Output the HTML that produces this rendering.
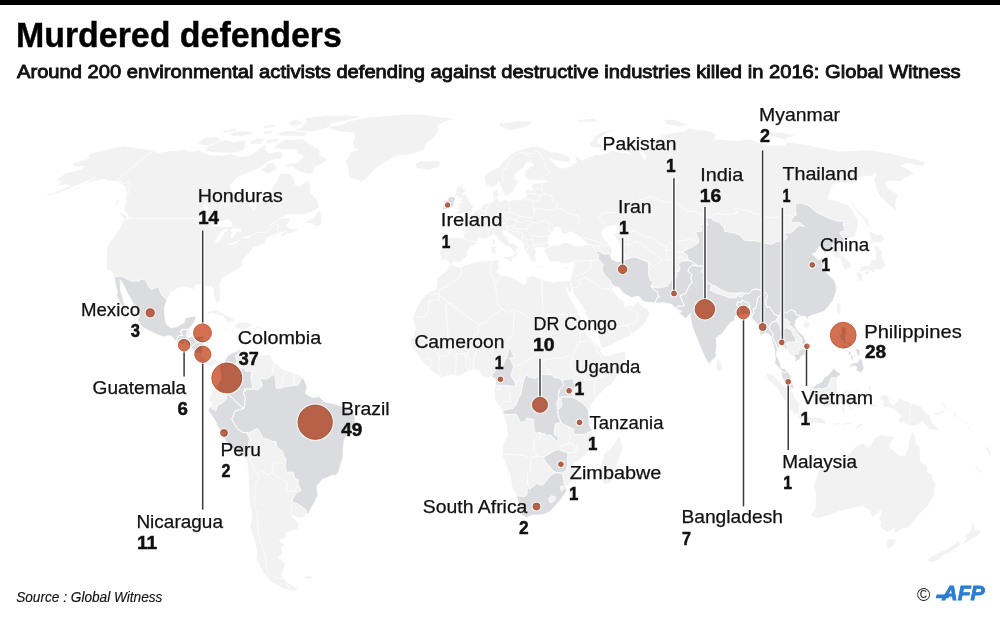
<!DOCTYPE html><html><head><meta charset="utf-8"><title>Murdered defenders</title><style>html,body{margin:0;padding:0;background:#fff}svg{display:block}text{font-family:"Liberation Sans",Arial,sans-serif}</style></head><body>
<svg width="1000" height="617" viewBox="0 0 1000 617">
<rect width="1000" height="617" fill="#fff"/>
<g><path d="M72.2,163.2 79.7,161.0 89.2,158.5 87.7,154.7 91.6,153.0 108.9,148.8 124.1,145.8 132.6,147.3 139.4,148.8 149.9,149.4 152.6,150.7 159.2,152.7 166.9,151.2 176.0,150.3 184.3,149.1 189.4,151.5 198.8,150.3 204.8,153.0 209.4,155.1 222.7,155.7 229.8,153.3 238.4,156.3 245.4,156.3 252.0,154.2 265.2,144.1 265.4,149.7 269.0,153.3 280.0,151.2 283.2,154.2 282.0,158.8 270.1,160.4 259.2,168.2 250.6,171.4 236.9,177.9 230.1,185.1 230.9,191.0 240.3,194.4 246.5,197.1 253.2,197.8 249.9,204.6 253.8,209.7 259.9,201.2 270.6,192.7 272.9,186.1 277.3,181.1 279.7,173.6 289.6,173.6 294.4,177.9 294.3,184.4 299.8,186.1 309.4,180.1 310.5,192.7 316.6,199.5 319.5,207.0 314.8,210.1 304.9,214.2 294.0,214.2 286.8,214.9 277.7,220.1 270.0,225.3 280.0,218.0 289.8,217.7 289.5,221.8 286.8,225.3 288.5,228.1 293.7,229.5 299.2,228.1 295.8,231.6 287.6,233.8 280.6,237.6 280.7,234.1 286.0,231.3 278.1,233.4 268.2,236.9 265.1,240.8 265.7,243.7 262.5,244.7 253.0,247.6 251.9,250.0 247.9,254.0 246.6,256.1 242.4,260.7 242.1,266.8 238.1,269.0 233.1,271.8 228.8,274.3 222.2,278.6 219.5,284.3 220.2,291.5 220.3,298.3 218.5,303.0 216.4,303.0 215.1,298.3 213.4,293.3 213.5,288.6 210.3,285.8 206.7,286.9 200.9,284.7 196.3,284.7 193.9,289.4 190.8,288.3 185.0,287.2 178.1,287.9 170.4,292.9 166.9,300.1 164.5,307.3 164.4,314.4 166.5,324.4 171.0,328.0 177.4,326.6 184.3,322.3 185.2,318.0 192.9,316.2 196.6,316.6 193.4,323.4 190.4,327.3 189.4,337.0 196.4,336.2 202.6,336.2 204.7,339.5 202.9,348.4 201.8,353.8 203.8,357.4 208.5,361.7 214.4,358.8 221.1,362.4 219.2,367.4 216.0,362.7 212.0,366.7 208.0,365.6 206.5,363.8 201.5,363.1 194.9,357.4 195.6,353.4 190.5,347.0 186.0,344.8 178.6,343.4 176.3,341.3 171.4,335.9 168.3,335.9 163.4,337.0 157.5,334.8 150.2,331.2 143.0,327.7 137.4,320.1 139.4,316.2 137.1,310.1 133.5,303.7 130.5,298.3 127.3,293.3 124.5,286.5 120.2,279.7 120.5,289.4 122.4,296.5 125.1,305.5 127.7,310.8 125.7,311.2 120.6,303.7 116.5,295.8 117.6,291.9 115.4,284.7 114.1,276.8 112.0,272.2 106.7,269.3 106.7,257.9 106.4,250.8 109.2,242.9 119.8,228.1 123.1,220.4 129.0,218.4 126.3,213.2 123.6,209.7 125.2,204.6 125.7,199.5 126.5,194.4 125.8,191.0 124.4,186.1 121.0,184.4 118.7,181.8 115.7,181.1 108.1,181.1 104.8,178.5 99.1,180.1 93.8,181.4 85.3,183.7 91.1,179.5 97.6,177.2 88.2,180.5 78.9,184.4 68.4,189.0 56.9,193.4 45.2,196.8 34.2,199.5 40.9,197.1 53.8,192.7 64.0,188.4 70.5,185.1 65.8,184.7 57.4,185.7 61.4,181.1 56.4,179.5 66.2,173.0 79.8,169.8 85.1,166.3 73.5,166.6ZM361.6,181.8 366.9,177.9 373.8,169.8 383.5,163.5 397.1,155.7 413.9,154.2 424.6,149.1 426.2,143.8 433.5,138.0 438.0,131.1 437.9,125.8 443.3,122.0 454.9,118.5 440.6,116.9 423.2,114.4 404.9,114.0 385.0,115.7 364.4,117.4 357.8,119.2 347.6,121.5 342.5,124.5 329.3,126.5 330.9,128.9 338.7,131.6 354.2,133.0 354.7,136.6 352.9,142.3 353.1,147.3 358.5,149.7 350.3,152.1 349.5,155.7 345.4,161.9 346.9,165.0 348.2,169.8 348.4,174.6 350.6,177.9 355.0,179.5ZM415.1,163.5 421.3,160.7 429.5,161.3 438.0,160.4 440.8,164.1 437.8,166.9 427.4,170.1 421.6,168.8 417.6,168.5 415.3,165.4ZM327.3,160.0 319.8,165.0 315.0,166.9 313.8,171.4 310.0,174.6 303.5,173.0 298.4,171.4 292.8,166.9 285.3,167.3 287.0,163.8 296.6,163.2 299.9,160.0 304.1,155.7 298.3,154.2 296.1,149.7 283.6,149.7 274.7,148.2 275.2,145.3 284.5,139.2 290.7,139.5 302.1,138.9 306.9,142.1 312.0,145.3 314.9,147.3 319.2,149.1 320.1,152.7 319.2,155.7 325.8,158.2ZM311.5,131.6 321.9,129.7 331.6,126.3 331.0,123.2 345.4,120.8 360.2,117.8 360.8,116.3 348.2,115.1 329.3,115.3 306.8,117.8 297.7,120.8 305.2,123.2 302.4,127.1 295.0,129.7 305.0,131.9ZM304.6,136.3 281.6,135.8 276.1,133.3 285.1,131.1 297.6,131.1 307.5,132.4ZM293.2,126.3 287.4,123.2 294.6,119.6 305.2,118.9 306.8,122.0ZM242.3,151.2 232.5,153.0 221.3,152.7 210.8,151.8 204.6,151.2 207.6,146.7 216.3,142.3 226.9,140.0 233.2,142.1 245.0,139.5 245.5,143.8 245.1,147.3ZM206.4,145.8 197.5,144.1 204.7,138.0 216.4,136.6 222.2,140.3 215.6,143.8ZM260.0,143.8 250.5,144.4 250.3,141.5 257.2,138.3 265.2,138.9ZM274.7,142.3 264.4,143.8 267.9,139.5 279.2,138.0 278.3,140.9ZM254.3,133.8 242.8,136.1 232.2,136.1 228.9,133.8 239.3,131.1 251.4,131.4ZM271.2,133.8 262.7,133.8 263.9,131.4 273.7,130.3ZM276.2,169.8 267.1,174.0 261.6,169.8 267.7,163.5 273.2,162.5 276.1,166.6ZM273.9,127.1 263.9,128.4 263.7,125.8 275.6,124.5ZM237.2,131.1 224.3,132.7 221.6,131.1 235.2,128.4ZM303.5,223.2 315.0,216.6 319.1,209.4 321.7,217.3 321.8,223.6 318.2,226.7 313.5,225.0 310.3,223.6ZM127.0,220.4 123.5,218.7 119.2,212.5 122.4,212.8 126.3,215.6ZM115.5,208.0 115.8,204.6 116.8,200.5 119.4,201.2ZM202.8,314.8 209.2,311.2 211.1,310.5 217.0,310.5 225.6,315.1 231.2,317.6 235.4,320.9 230.9,321.9 224.1,321.9 226.0,319.4 222.4,315.8 214.9,314.4 211.9,313.3 205.5,314.8ZM233.7,326.9 239.3,321.9 247.9,322.6 252.4,326.6 247.6,328.0 242.7,330.2 238.5,328.4ZM221.5,327.3 227.6,328.7 225.6,329.4 222.3,328.4ZM256.1,326.9 261.1,327.3 260.3,328.7 255.9,328.7ZM81.0,187.1 73.9,188.1 73.9,191.0ZM221.1,362.4 222.8,364.5 227.5,355.9 231.7,353.1 238.2,350.6 239.9,348.8 241.3,350.9 239.8,354.5 244.4,352.0 245.2,349.5 249.5,355.6 254.6,355.2 263.7,355.2 270.6,354.9 272.8,360.9 275.9,362.7 281.3,368.8 291.3,372.0 299.7,375.6 303.8,378.8 306.8,386.0 306.8,389.6 305.1,393.1 311.5,397.4 319.4,396.7 324.8,402.1 332.8,403.5 343.2,406.4 348.0,410.3 353.4,411.8 355.1,418.6 354.7,425.4 348.6,432.2 344.3,439.7 343.2,448.6 343.1,456.9 340.4,465.8 338.7,471.9 335.9,475.5 332.1,475.1 326.8,478.0 322.9,479.0 316.9,486.2 317.8,495.2 314.7,502.3 312.3,505.9 309.2,513.1 306.6,513.8 303.1,518.1 299.2,518.1 294.0,516.3 291.6,514.8 292.4,517.0 297.1,522.0 298.9,523.4 298.0,529.1 285.8,532.7 285.9,538.0 279.2,539.8 285.2,545.5 281.6,546.9 282.8,553.9 278.4,557.5 285.6,563.8 282.7,571.4 282.3,576.6 285.4,579.7 286.7,581.7 292.2,585.8 297.9,588.2 294.3,591.6 283.0,588.5 271.4,581.7 262.1,571.4 258.7,562.7 256.4,559.2 257.2,550.4 255.8,546.9 255.1,542.6 252.4,534.5 250.0,526.3 251.9,518.4 251.4,511.3 249.2,500.5 248.8,489.8 248.4,477.6 247.4,464.7 246.4,459.0 243.0,456.1 233.8,449.7 226.1,441.5 223.2,436.5 218.9,428.9 216.0,422.5 212.5,416.4 208.1,410.0 211.2,405.3 212.0,402.1 209.2,401.0 211.6,393.1 215.1,388.9 215.4,386.7 220.0,380.6 221.3,379.2 220.3,371.7 219.2,367.4ZM303.0,575.9 311.9,575.9 313.3,578.0 309.3,579.3 304.8,578.3ZM449.3,265.0 451.1,264.7 459.3,267.5 465.1,265.4 475.9,261.4 487.7,260.7 496.0,259.7 499.5,260.7 498.1,264.3 499.5,267.2 496.6,272.2 501.1,275.0 506.2,275.4 512.2,277.5 523.8,284.7 526.8,282.2 527.0,277.9 532.6,275.4 535.7,276.8 541.8,279.7 554.0,282.6 556.7,281.5 563.9,281.1 569.7,281.1 572.2,287.6 570.7,293.7 565.1,286.1 568.4,294.7 575.1,307.3 580.8,318.0 581.0,323.0 585.3,328.7 588.7,337.3 595.2,343.8 601.0,348.1 600.8,351.6 603.4,355.6 606.5,355.9 615.9,353.1 626.2,350.9 625.4,355.9 626.7,355.9 622.5,364.5 618.0,375.3 610.2,386.0 608.0,386.0 600.8,393.1 599.2,394.6 594.4,400.3 591.2,405.0 590.2,407.5 588.8,417.5 589.3,425.4 592.4,430.7 592.3,445.0 587.0,454.0 578.9,460.4 573.5,464.0 575.4,471.9 575.1,479.0 565.9,485.8 566.2,491.6 560.3,500.2 550.3,511.3 543.2,514.8 532.5,515.2 526.4,517.7 521.7,514.8 520.4,507.7 516.3,495.5 511.8,486.2 510.4,475.1 505.8,464.7 502.1,455.1 503.3,443.3 507.4,436.1 506.5,424.6 503.4,414.6 502.1,409.3 494.8,400.3 494.2,391.4 494.8,386.0 495.5,378.8 491.7,377.0 483.8,377.8 479.1,370.6 475.6,370.2 468.7,371.3 464.2,373.1 458.2,376.3 452.2,374.5 441.2,377.4 433.3,371.7 423.3,362.7 417.8,354.5 412.3,348.4 410.3,340.5 413.6,335.9 415.5,328.4 414.1,323.4 412.7,318.7 416.3,309.0 421.3,300.1 426.6,293.3 435.6,289.4 437.1,284.3 436.8,278.6 443.8,272.9 446.3,271.5 449.0,265.7ZM619.9,436.1 623.1,448.6 620.7,454.0 615.8,468.3 610.9,482.6 604.7,484.4 600.5,476.9 599.7,468.3 603.8,454.0 610.6,448.6 615.6,441.5ZM450.3,264.3 448.4,261.4 445.2,260.0 440.7,260.7 441.4,255.4 439.4,254.3 441.7,248.3 442.2,242.9 441.3,239.4 445.3,236.9 453.8,237.6 462.9,238.0 465.0,230.6 464.4,227.1 462.6,224.6 456.3,222.5 455.7,220.4 460.8,219.1 464.6,219.7 464.0,215.9 469.5,216.6 473.8,213.5 474.7,211.4 478.3,210.1 481.9,207.3 482.8,204.6 488.8,203.2 493.1,201.5 493.2,196.1 492.2,191.7 498.4,188.7 497.6,192.7 498.9,194.4 496.8,197.8 499.5,200.1 499.2,201.5 504.8,199.5 508.0,201.5 512.8,200.1 519.6,199.8 523.0,198.4 526.1,196.8 525.5,191.7 527.9,189.0 533.2,191.0 531.5,186.1 534.2,183.1 542.6,182.8 548.0,181.4 544.8,180.5 534.7,180.1 527.6,179.8 525.3,176.2 525.2,171.4 531.9,165.7 534.3,165.0 530.9,162.5 525.9,163.2 523.6,167.6 522.0,168.8 516.7,173.0 515.0,173.3 515.0,177.9 514.7,178.8 518.9,181.1 517.5,183.4 513.7,189.4 513.5,192.1 508.6,194.4 504.7,195.7 503.4,192.7 501.8,188.7 500.0,184.4 498.7,181.4 496.9,184.4 491.8,187.4 485.9,184.7 484.4,179.5 484.6,174.6 489.6,172.0 495.8,168.8 499.4,166.6 503.0,161.9 507.4,157.9 511.0,154.2 517.6,150.6 524.3,148.8 532.6,146.4 537.6,146.7 544.7,148.8 549.8,151.8 556.8,152.4 569.4,156.6 570.6,161.6 563.6,161.9 556.1,160.4 549.7,158.5 556.9,166.6 562.6,168.5 570.6,166.3 576.7,161.9 574.5,154.2 582.1,160.4 596.5,154.2 599.0,154.8 607.7,153.3 611.0,150.3 613.7,151.2 625.8,152.7 631.5,154.8 626.6,149.7 626.9,143.8 627.5,140.0 633.8,142.3 638.3,148.2 644.8,160.4 646.7,157.3 643.1,152.7 643.5,143.8 649.2,142.3 650.5,139.5 661.3,138.0 661.1,135.2 675.5,132.4 684.5,131.1 689.8,127.9 697.5,129.7 706.7,130.5 715.9,133.8 715.9,136.6 714.6,139.5 721.1,139.5 735.7,140.9 745.0,139.5 751.5,139.5 761.0,143.8 769.3,145.3 785.0,145.3 787.2,141.8 809.5,145.3 816.7,147.3 839.9,151.2 850.9,150.9 861.1,150.0 872.9,150.3 888.3,153.0 900.9,156.0 913.2,158.8 925.5,161.9 923.4,165.0 924.3,166.9 914.9,165.0 906.4,163.2 901.8,166.0 914.5,173.6 904.6,177.9 900.9,181.1 888.3,181.1 885.0,182.8 887.8,187.7 898.1,194.4 896.1,201.2 895.6,204.9 896.4,211.4 888.5,204.6 880.1,196.1 875.9,189.4 875.8,186.1 873.9,179.5 876.6,175.3 875.2,173.0 870.3,176.2 860.3,176.2 854.6,182.8 839.7,183.1 833.3,184.4 831.2,187.7 829.3,194.4 827.6,198.8 837.5,201.2 849.7,206.3 854.8,214.9 858.3,221.8 857.5,227.1 854.8,236.6 845.9,239.1 844.0,241.9 844.0,247.2 840.0,252.9 845.2,257.2 851.0,264.3 851.1,267.5 844.6,270.0 843.1,266.1 840.6,259.3 835.8,257.9 833.3,255.4 832.4,251.5 829.8,250.4 824.6,253.6 823.6,254.0 822.9,248.6 819.8,246.5 817.1,250.0 815.5,252.9 812.0,253.6 815.8,257.2 818.4,260.0 822.0,257.9 828.5,259.3 826.4,261.4 823.8,264.0 822.3,267.9 828.5,275.0 834.5,280.4 836.2,285.8 836.5,291.1 833.2,300.1 829.1,305.5 824.0,311.2 818.8,313.3 812.2,315.1 807.9,317.3 807.5,320.5 805.3,316.2 800.0,316.2 796.4,319.1 794.8,325.1 797.4,330.5 803.3,335.5 807.5,344.8 808.4,350.2 804.6,354.5 801.0,356.3 800.2,358.8 795.1,362.4 795.4,357.4 792.1,355.6 788.9,353.8 786.9,349.5 780.2,344.8 778.7,348.4 777.0,355.6 780.0,362.7 781.2,368.1 785.0,368.8 787.3,371.0 791.4,377.0 791.4,379.5 794.2,388.1 792.0,388.5 784.9,383.1 781.9,377.0 781.5,373.5 779.3,368.1 774.7,363.4 774.9,357.4 774.7,350.2 770.6,335.9 768.1,333.7 765.5,333.0 760.2,335.9 758.9,326.9 755.8,322.3 751.6,318.0 749.5,313.3 745.6,314.4 741.1,315.5 735.0,316.2 735.1,319.8 729.6,323.4 722.2,333.7 716.3,337.7 716.7,346.3 715.8,352.0 716.4,356.3 711.2,361.3 709.2,364.2 705.1,357.7 700.4,347.3 696.6,337.7 691.8,325.1 690.5,318.0 690.1,313.7 685.6,318.7 679.0,313.3 681.9,311.5 677.0,309.0 671.9,304.4 662.5,302.6 657.3,303.3 647.1,302.2 643.3,301.5 638.8,296.2 631.3,297.6 623.3,293.3 619.0,287.6 613.4,285.8 612.2,289.4 617.4,296.5 619.8,299.4 622.9,299.7 624.5,303.7 624.3,305.8 633.2,305.8 637.8,301.9 638.5,299.0 639.3,304.0 646.4,308.7 650.4,312.6 646.9,319.8 642.7,325.5 636.8,330.5 628.4,336.6 618.6,341.3 606.3,347.3 601.6,347.7 599.1,339.5 598.3,334.1 592.9,325.1 586.9,316.2 582.8,307.3 577.8,300.1 572.8,292.9 572.2,287.6 569.7,281.1 571.7,275.8 572.9,271.8 573.6,266.1 573.9,262.2 572.1,262.2 567.7,263.2 561.8,263.2 557.5,261.4 552.8,262.2 548.3,260.7 546.8,255.7 544.8,251.8 543.8,250.0 546.0,248.3 551.7,246.5 548.8,246.8 544.6,248.3 543.1,247.2 537.3,247.2 534.1,247.9 536.0,251.8 534.3,257.2 536.9,257.5 535.1,262.5 531.2,261.4 529.9,258.2 528.9,255.4 525.8,251.8 524.0,248.6 524.1,244.7 521.1,241.2 515.0,237.6 510.9,234.1 506.9,232.0 507.4,230.2 503.2,230.9 503.5,235.2 506.7,237.3 509.6,242.9 513.9,243.3 516.6,246.1 521.4,249.7 518.4,249.0 517.5,248.3 515.6,251.1 517.4,253.6 514.5,257.5 513.1,256.5 514.8,253.6 513.2,250.0 508.8,247.2 505.3,245.4 501.0,242.2 498.1,239.4 497.2,236.2 493.5,234.5 489.5,236.6 485.2,239.1 483.5,238.3 478.1,238.3 477.1,241.5 477.0,243.3 474.1,245.1 470.3,246.5 467.4,250.8 466.5,251.8 467.9,254.7 465.1,258.6 464.2,258.6 460.5,261.8 454.0,261.8ZM453.7,214.5 459.8,213.9 466.7,212.5 473.4,210.7 472.1,209.0 474.5,205.9 470.8,204.6 470.4,202.5 467.4,199.1 466.4,195.7 465.2,194.4 462.8,194.4 464.3,192.7 466.4,189.4 462.1,188.7 463.4,185.7 458.5,185.7 456.3,189.4 456.2,192.7 454.4,195.1 455.8,196.8 457.7,195.4 457.7,198.4 461.7,198.1 460.9,200.5 462.1,202.9 457.7,203.5 458.7,204.9 458.7,207.0 455.3,208.7 460.9,209.7 458.1,210.7ZM452.8,207.3 454.0,203.5 453.7,201.2 455.8,199.1 454.2,196.8 451.3,196.4 448.0,197.8 447.7,200.1 443.7,200.5 443.4,202.9 445.9,203.9 443.1,207.3 441.6,208.3 443.8,209.7 446.6,209.0 450.9,207.7ZM858.3,271.5 860.9,266.1 869.5,265.4 870.8,259.7 875.5,259.0 875.8,250.8 873.1,245.8 877.0,245.1 882.2,251.8 881.5,256.1 884.3,262.5 885.6,265.4 883.4,267.9 881.1,269.3 875.7,269.3 874.3,273.2 870.2,270.4 865.5,270.0 861.8,271.8ZM872.4,244.7 870.3,238.7 869.0,230.9 876.5,234.8 881.6,234.8 884.7,238.3 880.9,242.9 873.7,241.9ZM855.9,273.6 858.8,271.8 863.0,275.0 862.7,280.8 859.9,281.5 857.1,276.1ZM864.4,274.7 864.6,271.5 869.1,270.7 870.0,272.2 867.4,274.0ZM867.9,228.8 866.4,223.6 860.8,216.6 855.6,209.7 851.2,202.9 850.5,200.1 855.1,206.3 864.3,217.3 868.3,218.4 869.0,225.3 872.7,228.8 867.9,226.7ZM837.7,302.6 841.0,303.7 840.9,310.8 839.4,314.8 836.6,310.8 836.2,305.5ZM803.1,324.4 805.8,321.6 810.3,322.6 809.1,327.3 805.8,328.0 803.4,326.9ZM717.4,358.1 720.8,362.7 723.2,368.1 721.4,371.0 717.6,371.7 716.6,368.1 716.4,362.7ZM840.8,326.9 845.8,326.9 846.6,332.3 845.2,337.7 846.1,342.3 848.9,342.0 854.2,346.6 854.9,348.1 851.0,346.6 847.6,344.1 843.1,343.4 843.8,341.3 840.7,339.5 839.5,334.8 841.3,334.1ZM849.7,368.1 850.4,364.5 854.0,362.4 857.2,362.7 860.0,358.1 862.7,360.9 863.9,368.1 861.3,373.1 856.1,370.6 856.5,366.7 852.7,365.9ZM855.3,348.4 859.8,349.5 860.2,353.8 858.3,356.6 856.4,352.7ZM848.3,350.9 851.9,352.0 850.3,355.6 848.4,355.6ZM851.8,354.1 853.6,357.4 852.3,360.6 850.2,357.7ZM854.5,353.1 855.5,356.6 853.5,359.1ZM842.3,344.8 846.2,345.9 845.6,349.1 843.3,348.1ZM834.2,363.1 840.3,355.6 841.3,352.7 838.8,357.4ZM765.7,373.1 772.7,374.5 781.8,384.2 785.6,386.7 792.7,393.1 795.1,398.5 799.7,403.9 799.1,413.9 794.7,414.3 788.0,407.5 782.5,396.7 776.8,387.1 768.1,379.9ZM796.7,417.5 799.4,414.3 806.6,415.7 813.1,417.8 820.3,417.8 825.5,420.7 825.6,424.3 817.9,422.9 811.6,422.1 805.4,421.1 800.7,419.6ZM827.4,422.1 829.5,423.2 827.8,424.6ZM830.5,422.9 832.6,423.2 831.6,425.0ZM832.9,423.6 840.2,422.5 838.8,424.6 833.4,425.4ZM842.4,423.6 852.2,422.1 851.8,424.3 842.9,425.0ZM853.5,430.0 859.1,423.9 866.0,423.2 856.8,428.9ZM839.6,427.2 845.2,428.2 843.2,430.0ZM809.3,387.8 811.2,386.0 815.7,387.4 821.8,381.7 827.6,375.6 830.9,372.0 833.9,368.1 837.2,371.7 841.1,373.8 837.5,377.0 836.7,382.4 837.8,389.6 834.7,394.9 833.0,402.1 831.2,406.8 826.8,407.5 821.8,404.6 817.8,403.9 813.0,403.5 812.8,398.5 809.4,394.6 809.4,391.4ZM842.1,412.8 844.9,413.2 844.9,403.9 847.2,402.5 850.1,409.3 852.6,411.0 851.2,404.6 848.2,400.0 854.6,396.4 848.9,396.7 846.1,391.4 853.7,391.4 859.9,387.8 857.8,391.7 847.3,390.3 844.5,390.6 843.5,395.7 840.2,402.8 842.0,405.7ZM867.8,386.7 869.3,385.3 871.3,389.6 869.5,391.4 871.0,394.9 868.5,394.2 869.4,390.3ZM869.3,403.9 877.1,404.6 878.0,406.8 870.8,406.0ZM862.9,404.2 866.7,405.0 865.4,406.8 862.9,406.0ZM878.9,397.8 883.7,394.6 888.7,396.4 889.2,402.1 892.9,405.0 899.4,398.5 909.7,402.5 921.3,406.8 925.7,412.8 930.3,415.3 931.4,421.8 939.4,430.4 929.1,429.3 928.1,427.2 922.0,421.1 916.9,425.4 909.0,426.1 903.0,422.1 899.8,423.2 898.5,418.2 901.8,416.4 894.3,409.3 888.1,407.1 884.0,407.5 881.6,403.2 883.9,401.7ZM933.6,412.8 939.9,412.8 945.5,408.2 943.0,413.6 935.0,415.3ZM818.4,471.2 827.5,466.9 833.5,465.8 841.4,462.9 846.0,457.6 850.9,452.2 856.6,445.4 863.2,442.9 866.4,446.8 870.5,446.5 872.9,440.4 875.7,437.5 881.4,434.3 884.4,435.7 892.2,436.1 894.6,437.2 891.3,441.5 889.3,446.5 894.8,451.5 899.7,455.8 904.3,455.8 908.4,446.8 909.3,437.9 913.2,431.4 915.6,437.9 915.7,444.0 919.9,446.8 920.3,453.6 920.4,461.2 921.8,462.2 927.0,465.8 927.9,473.0 931.6,474.4 932.7,479.0 935.9,484.4 934.0,491.6 934.2,495.5 928.1,505.9 919.2,514.5 911.2,523.8 909.4,527.3 901.1,529.1 895.5,533.1 893.7,528.8 887.9,532.0 882.0,529.1 879.6,526.3 881.1,521.6 878.6,520.6 879.7,518.1 881.0,509.8 872.4,517.7 872.3,517.3 869.9,510.5 862.0,505.9 852.0,508.4 839.0,511.3 831.5,514.5 818.5,518.4 810.4,515.9 815.2,507.7 815.7,498.7 814.9,489.8 813.2,486.6 816.8,477.3ZM887.4,538.7 897.7,539.5 891.8,547.6 887.5,549.0 886.1,544.4ZM972.0,518.8 973.8,525.2 974.9,529.8 982.4,530.6 977.2,535.9 972.0,538.8 963.3,544.4 962.6,543.0 966.8,538.8 965.2,535.9 970.3,531.6 971.7,526.3ZM958.9,540.5 960.5,544.8 955.0,549.0 950.3,552.2 944.2,554.7 939.2,559.6 932.0,562.4 926.9,560.0 933.7,554.7 939.0,552.6 948.1,548.3 955.4,543.0ZM499.3,125.8 509.7,130.8 519.8,128.4 531.3,124.5 530.7,121.5 516.9,120.8 509.2,122.2 499.3,122.7ZM591.4,146.7 600.9,147.9 603.8,146.7 597.4,142.3 598.8,138.3 603.7,135.2 610.0,131.6 618.2,130.0 612.9,129.7 601.8,131.9 593.7,136.6 592.4,140.9 589.2,143.8ZM667.1,124.5 680.1,127.1 687.1,124.5 675.1,119.6 663.5,119.6ZM767.5,135.2 784.1,139.5 795.2,135.2 780.3,132.4 767.7,132.4ZM875.4,146.7 880.9,145.3 876.0,145.0ZM575.9,122.0 599.5,122.0 593.2,118.5 578.5,119.6ZM503.7,256.8 513.1,256.1 511.7,261.8 504.0,258.6ZM491.4,246.5 496.1,246.5 495.4,253.2 492.2,254.0ZM492.6,239.8 494.9,239.4 495.2,242.9 494.3,245.1 492.6,243.7ZM536.7,266.1 545.1,266.8 544.3,267.9 537.1,267.2ZM563.0,267.9 569.7,265.4 567.8,267.9 564.9,269.3ZM940.4,402.5 945.1,404.6 948.0,409.6 947.0,410.3 943.4,406.0 939.7,403.2ZM953.0,411.0 956.7,416.1 955.7,417.8 953.1,413.9ZM958.6,416.8 961.2,419.3 960.5,420.0 958.2,417.8ZM963.6,421.4 968.4,423.6 967.7,424.3 963.2,422.1ZM967.5,426.4 971.2,427.2 970.4,428.6 967.6,428.2ZM971.0,422.9 973.0,425.4 973.4,427.5 971.6,426.1ZM972.5,429.7 975.5,430.7 973.0,431.1ZM974.6,465.1 977.8,467.6 982.1,473.0 980.7,473.3 975.1,466.9ZM986.4,446.1 988.3,447.9 990.7,451.5 990.5,456.9 989.6,456.5 988.0,451.1 986.3,448.6ZM26.6,201.5 30.4,200.5 23.9,203.2ZM15.2,205.3 19.0,203.5 14.4,205.9ZM12.9,207.3 13.7,206.6 11.8,208.3ZM11.8,208.3 12.6,207.7 10.7,209.4Z" fill="#f2f2f2" stroke="#fff" stroke-width="0.6"/>
<path d="M114.1,276.8 121.6,276.1 130.9,281.1 139.3,281.1 139.9,279.3 145.1,279.3 148.9,287.2 151.6,289.4 158.2,286.5 161.7,294.7 166.9,300.1 164.5,307.3 164.4,314.4 166.5,324.4 171.0,328.0 177.4,326.6 184.3,322.3 185.2,318.0 192.9,316.2 196.6,316.6 193.4,323.4 190.4,327.3 187.6,329.4 181.7,329.4 181.4,331.4 180.1,331.4 182.7,335.5 178.6,335.5 176.3,341.3 171.4,335.9 168.3,335.9 163.4,337.0 157.5,334.8 150.2,331.2 143.0,327.7 137.4,320.1 139.4,316.2 137.1,310.1 133.5,303.7 130.5,298.3 127.3,293.3 124.5,286.5 120.2,279.7 120.5,289.4 122.4,296.5 125.1,305.5 127.7,310.8 125.7,311.2 120.6,303.7 116.5,295.8 117.6,291.9 115.4,284.7ZM176.3,341.3 178.6,335.5 182.7,335.5 180.1,331.4 181.4,331.4 181.7,329.4 187.4,329.4 186.4,336.2 189.4,337.0 186.0,339.1 185.2,341.6 182.6,344.1 178.6,343.4ZM189.4,337.0 196.4,336.2 202.6,336.2 204.7,339.5 200.3,340.2 198.2,342.0 195.5,343.4 192.8,345.5 191.1,346.7 189.7,345.2 187.7,343.4 185.2,341.6 186.0,339.1ZM204.7,339.5 202.9,348.4 201.8,354.1 198.7,353.4 195.6,353.4 193.0,350.2 191.1,346.7 192.8,345.5 195.5,343.4 198.2,342.0 200.3,340.2ZM219.2,367.4 221.1,362.4 222.8,364.5 227.5,355.9 231.7,353.1 238.2,350.6 239.9,348.8 241.0,350.7 237.7,353.4 235.6,355.9 236.8,363.1 236.4,364.9 238.1,368.1 243.8,368.1 245.9,371.3 251.9,371.0 250.7,377.0 252.2,384.2 252.7,388.9 244.2,389.2 245.7,391.0 243.5,391.4 243.5,393.9 245.4,397.4 244.1,408.2 241.5,406.8 236.4,402.1 232.2,397.8 227.1,393.5 225.8,392.8 220.1,391.7 215.7,388.1 220.0,380.6 221.3,379.2 220.3,371.7ZM211.2,405.3 208.1,410.0 212.5,416.4 216.0,422.5 218.9,428.9 223.2,436.5 226.1,441.5 233.8,449.7 243.0,456.1 246.1,458.8 248.6,455.8 249.0,451.5 248.1,448.3 249.4,437.9 246.2,432.5 243.0,432.5 237.7,428.9 235.3,425.4 231.9,419.3 234.7,411.4 244.1,408.2 241.5,406.8 236.4,402.1 232.2,397.8 227.1,393.5 226.2,398.9 222.8,402.5 217.2,405.7 215.8,411.0 214.1,409.6 211.9,408.5ZM306.6,513.8 309.2,513.1 312.3,505.9 314.7,502.3 317.8,495.2 316.9,486.2 322.9,479.0 326.8,478.0 332.1,475.1 335.9,475.5 338.7,471.9 340.4,465.8 343.1,456.9 343.2,448.6 344.3,439.7 348.6,432.2 354.7,425.4 355.1,418.6 353.4,411.8 348.0,410.3 343.2,406.4 332.8,403.5 324.8,402.1 319.4,396.7 311.5,397.4 305.1,393.1 306.8,389.6 306.8,386.0 303.8,378.8 301.9,378.1 297.6,385.3 293.8,385.6 288.1,386.3 286.2,386.3 281.5,388.1 276.4,388.5 275.9,384.2 275.4,377.0 273.2,374.5 267.4,378.8 264.6,379.2 260.2,378.1 262.5,386.0 257.8,389.9 252.7,388.9 244.2,389.2 245.7,391.0 243.5,391.4 243.5,393.9 245.4,397.4 244.1,408.2 234.7,411.4 231.9,419.3 235.3,425.4 237.7,428.9 243.0,432.5 246.2,432.5 249.0,432.9 257.2,428.2 259.6,431.8 262.9,437.9 267.3,439.0 272.2,441.5 276.0,441.5 276.8,447.2 282.8,451.5 283.5,455.8 285.9,458.3 285.9,461.2 285.1,465.4 286.4,472.2 293.2,472.2 294.8,478.7 298.3,479.4 298.0,484.8 301.2,490.1 295.9,493.4 291.5,501.2 296.8,503.7 299.8,505.2 305.8,509.8ZM452.8,207.3 454.0,203.5 453.7,201.2 455.8,199.1 454.2,196.8 451.3,196.4 448.0,197.8 447.7,200.1 443.7,200.5 443.4,202.9 445.9,203.9 443.1,207.3 441.6,208.3 443.8,209.7 446.6,209.0 450.9,207.7ZM491.7,377.0 495.5,378.8 495.8,385.3 500.5,385.3 506.9,385.3 515.4,386.7 515.7,383.8 510.9,375.3 513.8,366.3 509.7,358.1 514.1,357.4 512.2,353.1 510.9,349.5 509.6,346.6 507.8,353.8 506.8,357.4 504.0,362.7 501.2,368.8 498.0,368.5 495.2,371.0 492.6,374.2ZM503.4,414.6 502.7,411.0 505.9,410.0 509.1,408.9 513.2,408.5 516.0,405.0 518.2,398.5 520.8,394.9 521.7,389.6 523.6,380.6 526.1,374.9 529.6,377.4 535.6,378.5 537.5,376.3 543.8,374.5 551.4,374.9 554.5,377.8 557.7,377.8 562.1,380.6 563.7,385.3 561.9,387.4 559.3,389.9 558.4,394.6 558.4,398.2 556.5,403.2 557.1,405.0 557.4,409.3 558.3,416.4 561.3,422.5 555.7,423.6 555.0,425.4 554.3,434.3 558.0,436.8 558.5,441.1 556.0,441.1 554.2,438.6 550.5,434.7 546.7,435.7 544.5,433.2 541.7,434.0 540.5,432.5 535.1,433.2 533.9,427.2 533.6,419.3 526.4,418.2 526.1,421.8 520.4,422.1 516.3,414.3ZM558.4,398.2 558.4,394.6 559.3,389.9 561.9,387.4 563.7,385.3 562.1,380.6 565.3,379.5 569.1,379.2 572.2,378.1 573.8,380.6 575.4,387.1 572.3,392.4 572.0,396.7 562.8,396.7 561.2,397.1ZM561.2,397.1 572.0,396.7 583.6,403.9 588.6,410.0 588.8,417.5 589.3,425.4 592.4,430.7 588.6,432.5 582.9,434.7 577.5,434.3 573.7,434.3 573.5,428.9 568.9,426.8 562.6,423.9 561.3,422.5 558.3,416.4 557.7,409.3 560.9,407.5 562.1,405.3 561.2,401.7ZM543.8,456.9 547.9,454.7 551.1,452.6 555.2,450.4 560.2,449.0 560.2,450.4 568.0,452.9 567.1,460.1 567.9,464.0 566.2,470.1 562.3,473.3 556.5,472.6 552.2,470.1 550.1,466.5 546.2,462.9 544.1,459.4ZM516.3,495.5 520.4,507.7 521.7,514.8 526.4,517.7 532.5,515.2 543.2,514.8 550.3,511.3 560.3,500.2 566.2,491.6 566.6,489.4 564.1,483.7 563.9,480.5 562.3,473.3 556.5,472.6 552.1,474.0 548.9,477.6 545.8,481.2 542.6,485.1 536.5,483.7 533.3,486.2 529.3,489.4 527.3,481.9 527.0,494.8 523.9,496.6 519.1,495.9ZM596.0,252.2 598.2,251.1 603.5,254.0 607.9,254.0 610.8,255.7 611.6,259.0 617.9,261.8 626.2,259.7 626.3,259.0 631.9,257.2 636.4,257.5 642.7,260.0 648.2,262.2 648.9,269.7 648.3,273.2 650.3,280.4 652.8,281.1 651.1,286.5 654.4,290.4 657.6,291.9 658.1,295.8 659.7,296.5 656.8,298.3 655.2,303.0 647.1,302.2 643.3,301.5 638.8,296.2 631.3,297.6 623.3,293.3 619.0,287.6 613.7,286.1 611.7,284.0 610.4,280.8 604.7,275.0 602.8,271.5 602.1,267.9 603.5,265.0 600.0,260.7 597.7,259.0 598.7,255.4ZM655.2,303.0 657.3,303.3 662.5,302.6 671.9,304.4 676.0,308.7 677.6,306.2 681.4,306.5 684.3,305.5 682.3,301.2 680.1,295.8 685.6,293.3 689.0,286.1 692.0,282.2 690.6,276.8 692.8,275.4 688.1,271.5 688.8,267.9 692.6,265.0 698.2,266.1 691.4,261.1 687.2,260.7 681.5,261.4 678.2,264.3 680.2,267.9 678.8,271.5 675.9,271.8 676.8,275.0 675.4,279.0 671.0,280.0 667.8,286.1 660.7,287.6 656.2,287.9 651.1,286.5 654.4,290.4 657.6,291.9 658.1,295.8 659.7,296.5 656.8,298.3ZM676.0,308.7 681.9,311.5 679.0,313.3 685.6,318.7 690.1,313.7 690.5,318.0 691.8,325.1 696.6,337.7 700.4,347.3 705.1,357.7 709.2,364.2 711.2,361.3 716.4,356.3 715.8,352.0 716.7,346.3 716.3,337.7 722.2,333.7 729.6,323.4 735.1,319.8 735.0,316.2 741.1,315.5 740.1,312.6 738.7,306.5 736.6,305.1 737.7,301.9 741.8,302.6 741.4,300.1 748.6,303.0 748.8,304.0 750.2,307.3 747.0,308.3 748.6,311.2 750.6,310.1 752.1,314.4 752.4,314.4 754.0,312.6 753.2,309.0 755.8,308.0 756.7,303.3 757.6,297.9 760.3,295.8 762.9,293.7 760.3,290.1 756.4,289.0 752.3,289.7 748.5,293.7 745.7,293.3 740.9,297.2 737.6,295.4 737.4,292.9 736.2,297.9 729.4,297.9 722.8,295.1 716.4,293.3 710.1,290.1 711.9,285.1 705.0,280.8 703.3,276.8 705.5,275.8 701.5,271.5 704.8,266.1 698.2,266.1 692.6,265.0 688.8,267.9 688.1,271.5 692.8,275.4 690.6,276.8 692.0,282.2 689.0,286.1 685.6,293.3 680.1,295.8 682.3,301.2 684.3,305.5 681.4,306.5 677.6,306.2ZM741.1,315.5 745.6,314.4 749.5,313.3 751.6,318.0 752.1,314.4 750.6,310.1 748.6,311.2 747.0,308.3 750.2,307.3 748.8,304.0 748.6,303.0 741.4,300.1 741.8,302.6 737.7,301.9 736.6,305.1 738.7,306.5 740.1,312.6ZM751.6,318.0 755.8,322.3 758.9,326.9 760.2,335.9 765.5,333.0 768.1,333.7 770.6,335.9 774.7,350.2 774.9,357.4 775.3,357.7 776.7,355.6 777.4,348.4 775.4,343.0 772.6,337.7 773.2,334.1 770.2,330.2 768.9,326.9 771.4,322.6 776.1,320.5 778.6,316.2 774.7,314.4 772.4,311.2 769.6,306.9 766.8,307.3 765.7,301.9 767.7,294.7 765.0,292.2 763.1,291.9 762.9,293.7 760.3,295.8 757.6,297.9 756.7,303.3 755.8,308.0 753.2,309.0 754.0,312.6 752.4,314.4 752.1,314.4ZM780.7,370.2 783.9,372.7 786.1,372.4 787.0,371.0 785.0,368.8 781.2,368.1 780.0,362.7 777.0,355.6 778.7,348.4 780.2,344.8 786.9,349.5 788.4,351.6 786.2,344.5 787.8,342.0 794.1,342.0 795.7,342.3 795.5,337.7 792.5,334.1 791.7,330.2 786.7,327.7 783.5,329.1 780.8,330.5 779.5,325.1 777.7,323.4 776.1,320.5 771.4,322.6 768.9,326.9 770.2,330.2 773.2,334.1 772.6,337.7 775.4,343.0 777.4,348.4 776.7,355.6 775.3,357.7 774.7,363.4 779.3,368.1ZM800.0,316.2 796.4,319.1 794.8,325.1 797.4,330.5 803.3,335.5 807.5,344.8 808.4,350.2 804.6,354.5 801.0,356.3 800.2,358.8 795.1,362.4 795.4,357.4 793.7,355.9 795.5,354.1 798.9,353.8 797.8,351.3 802.6,349.1 801.8,341.3 801.8,338.4 798.2,334.5 793.3,328.0 788.8,324.4 790.1,323.0 787.8,319.8 785.5,319.1 782.1,316.6 783.0,311.9 786.8,312.6 790.7,309.8 795.3,311.5 795.7,314.4 799.6,315.8ZM780.7,370.2 781.5,373.5 781.9,377.0 784.9,383.1 792.0,388.5 794.2,388.1 791.4,379.5 791.4,377.0 787.3,371.0 786.1,372.4 783.9,372.7ZM811.2,386.0 813.4,387.1 816.2,384.6 821.8,381.7 824.8,376.7 827.6,375.6 830.9,372.0 833.9,368.1 837.2,371.7 841.1,373.8 837.5,377.0 836.6,378.1 831.2,377.8 829.8,382.4 826.7,387.8 822.0,388.9 818.8,388.1 815.7,389.6 811.2,387.8ZM829.8,250.4 824.6,253.6 823.6,254.0 822.9,248.6 819.8,246.5 817.1,250.0 815.5,252.9 812.0,253.6 815.8,257.2 818.4,260.0 822.0,257.9 828.5,259.3 826.4,261.4 823.8,264.0 822.3,267.9 828.5,275.0 834.5,280.4 836.2,285.8 836.5,291.1 833.2,300.1 829.1,305.5 824.0,311.2 818.8,313.3 812.2,315.1 807.9,317.3 807.5,320.5 805.3,316.2 800.0,316.2 799.6,315.8 795.7,314.4 795.3,311.5 790.7,309.8 786.8,312.6 783.0,311.9 780.0,313.0 778.6,316.2 774.7,314.4 772.4,311.2 769.6,306.9 766.8,307.3 765.7,301.9 767.7,294.7 765.0,292.2 763.1,291.9 760.3,290.1 756.4,289.0 752.3,289.7 748.5,293.7 745.7,293.3 740.6,292.2 737.8,293.3 735.0,293.3 728.6,292.9 721.9,290.1 715.1,285.8 711.9,285.1 705.0,280.8 703.3,276.8 705.5,275.8 701.5,271.5 704.8,266.1 698.2,266.1 691.4,261.1 688.2,260.0 687.4,255.4 682.7,251.8 688.5,248.6 693.7,246.5 698.8,242.2 698.8,239.4 695.6,232.4 701.9,230.9 700.8,224.6 707.9,225.0 705.9,218.4 710.0,217.7 713.0,220.1 719.5,222.5 724.8,228.8 724.4,231.3 733.4,232.7 739.4,234.8 744.8,240.5 755.2,240.8 771.1,244.4 775.8,241.9 784.8,240.1 787.6,236.9 783.4,233.4 790.6,233.1 796.7,227.8 799.0,225.3 804.3,226.4 799.0,222.2 796.0,222.9 790.3,222.2 793.6,216.6 796.4,214.9 795.4,209.4 795.3,203.5 800.4,202.9 808.0,205.3 818.0,213.2 830.2,218.7 839.1,221.5 843.5,220.4 843.3,223.6 845.3,232.0 841.5,231.3 839.7,232.7 843.9,239.1 844.0,241.9 839.4,242.9 837.8,244.7 833.5,243.7 831.1,248.3ZM840.8,326.9 845.8,326.9 846.6,332.3 845.2,337.7 846.1,342.3 848.9,342.0 854.2,346.6 854.9,348.1 851.0,346.6 847.6,344.1 843.1,343.4 843.8,341.3 840.7,339.5 839.5,334.8 841.3,334.1ZM849.7,368.1 850.4,364.5 854.0,362.4 857.2,362.7 860.0,358.1 862.7,360.9 863.9,368.1 861.3,373.1 856.1,370.6 856.5,366.7 852.7,365.9ZM855.3,348.4 859.8,349.5 860.2,353.8 858.3,356.6 856.4,352.7ZM848.3,350.9 851.9,352.0 850.3,355.6 848.4,355.6ZM851.8,354.1 853.6,357.4 852.3,360.6 850.2,357.7ZM854.5,353.1 855.5,356.6 853.5,359.1ZM842.3,344.8 846.2,345.9 845.6,349.1 843.3,348.1ZM834.2,363.1 840.3,355.6 841.3,352.7 838.8,357.4Z" fill="#dbdcdf" stroke="#fff" stroke-width="0.8" stroke-linejoin="round"/>
<path d="M548.2,499.1 551.4,495.5 555.6,496.9 554.8,500.5 551.1,502.7 549.3,501.6ZM561.0,485.8 564.0,486.2 564.2,489.1 561.7,490.9 560.3,488.0Z" fill="#f2f2f2" stroke="#fff" stroke-width="0.6"/>
<path d="M129.0,218.4 206.1,218.4 206.9,217.0 207.8,217.3 211.4,219.7 218.8,221.5 220.0,221.8M251.3,235.2 256.7,232.4 265.8,232.4 268.6,230.9 272.4,226.4 275.6,223.9 278.0,224.1 279.1,225.0 277.2,229.9 278.2,231.6 278.1,233.4M152.6,150.7 116.8,180.1 120.7,181.1 121.0,184.4 128.9,181.8 129.5,186.1 128.1,192.7 130.1,194.7M203.6,364.5 204.9,358.8M275.9,362.7 272.5,368.1 273.2,374.5M284.7,372.0 281.5,388.1M294.4,372.7 293.8,385.6M285.1,465.4 281.6,462.2 273.7,463.3 272.3,468.3 271.9,472.6M271.9,472.6 266.9,474.8 263.8,472.2 260.3,471.2 257.9,474.8M257.9,474.8 254.2,469.7 251.5,462.6 248.6,455.8M257.9,474.8 259.1,479.0 255.0,482.6 255.9,489.8 254.3,500.5 255.4,507.7 257.2,514.8 257.6,522.0 258.0,529.1 258.9,536.3 260.8,543.4 263.8,550.4 265.8,557.5 265.9,564.5 268.2,571.4 273.1,576.6 282.7,579.0 284.7,579.3M285.2,580.4 289.2,588.2M271.9,472.6 280.6,478.7 288.0,483.3 286.6,490.9 294.7,491.2 298.0,484.8M291.5,501.2 291.2,507.7 291.9,514.8M211.2,405.3 211.9,408.5M462.9,238.0 467.9,240.5 472.2,241.2 477.1,241.5M442.2,242.9 444.2,242.6 449.0,244.0 447.6,246.5 447.0,251.1 446.1,251.8 446.6,256.5 444.9,260.0M476.4,211.1 480.8,214.9 485.2,216.6 486.8,217.7 491.8,218.4 490.0,223.2 487.8,223.9 485.5,227.8 488.2,229.2 488.1,235.2 489.5,236.6M488.8,203.5 489.2,207.3 485.9,208.7 485.9,212.1 485.2,216.6M478.8,210.1 481.8,210.1 485.3,212.1M493.1,198.1 496.6,198.4M508.0,201.5 509.2,205.9 509.9,211.8M509.9,211.8 502.5,213.9 504.7,217.3 507.2,219.1M507.2,219.1 505.1,223.6 498.1,223.6 495.6,223.6 490.0,223.2M488.2,229.2 492.2,227.1 495.3,227.1 498.1,225.7 503.1,225.0 507.1,227.1 506.9,230.2M507.2,219.1 510.6,218.4 515.8,219.7 516.5,221.8 514.9,223.6 513.8,226.0 507.1,227.1M509.9,211.8 514.6,213.9 521.0,216.6 531.5,218.0M531.5,218.0 535.1,213.5 533.7,209.7 533.0,204.6 532.8,201.2 530.8,199.8 522.3,199.8M515.8,219.7 521.0,216.6M516.5,221.8 521.2,222.5 524.5,221.1 530.6,220.4M530.6,220.4 532.6,222.2 527.6,228.1 525.4,228.5 521.5,229.2 517.3,229.2 513.8,226.0M506.9,230.6 512.2,229.5 515.0,227.1M512.8,231.6 515.9,231.6 522.2,232.7 522.9,235.9 521.1,241.2M525.4,228.5 529.0,233.1 532.5,235.2M532.5,235.2 539.5,236.9 545.1,235.5 549.8,236.9M532.5,235.2 532.2,239.4 533.8,242.9M533.8,242.9 534.0,245.4 538.5,244.4 543.1,244.0 544.7,245.4 543.9,246.8M544.5,243.3 548.5,242.9M525.8,251.1 527.5,249.7 528.5,246.8 526.9,243.3 523.8,243.3M527.1,246.1 534.0,245.4M522.9,235.9 526.8,240.1 532.2,239.4M532.6,222.2 538.2,222.9 542.8,220.8 545.3,220.4 549.7,223.2 548.1,230.6 552.4,231.6M575.6,225.0 580.2,221.8 579.6,216.3 573.6,214.9 566.2,212.8 561.8,209.0 556.8,207.7 555.7,207.7M533.7,209.7 537.4,208.3 544.2,209.4 552.5,210.4 555.7,207.7M555.7,207.7 557.6,203.5 552.7,201.2 551.5,195.7 544.5,194.1M532.8,201.2 538.8,200.1 540.4,195.4 544.5,194.1M525.9,194.1 533.4,193.4 540.4,195.4M533.7,188.1 536.8,188.1 541.8,189.4M542.6,182.8 541.7,186.1 541.8,189.4 543.7,192.4 544.5,194.1M541.7,179.5 545.5,176.2 549.7,171.7 545.5,168.2 543.9,160.4 541.3,155.7 539.6,152.7 542.7,150.6M530.9,162.5 529.1,157.3 526.0,154.2 521.4,152.4M521.4,152.4 525.9,153.3 531.7,153.6 534.7,150.0 539.6,152.7M500.5,184.4 503.2,179.5 502.4,176.2 502.1,169.8 507.2,167.6 507.8,163.5 512.3,157.3 515.6,154.2 521.4,152.4M606.2,227.1 599.0,218.4 602.0,213.2 610.1,212.5 621.1,212.8 628.9,211.4 635.8,211.8 636.0,208.0 632.3,204.6 633.9,201.2 642.5,199.1 652.1,196.4 658.9,200.5 666.4,202.5 673.8,201.2 679.3,204.6 687.5,211.4 695.6,211.4 702.5,214.9 710.0,217.7M710.0,217.7 715.5,213.2 727.2,214.9 737.4,213.2 734.7,208.0 740.9,209.4 748.2,210.4 755.5,213.9 761.0,213.9 767.0,217.3 772.7,217.7 777.6,216.6 783.1,214.2 789.4,215.6 793.6,216.6M619.2,242.9 629.5,245.4 627.0,232.4 634.0,230.6 645.3,237.6 653.4,236.9 658.1,242.9 664.8,246.5 667.2,244.7 671.7,242.2 679.2,241.2 686.0,239.8 694.7,240.1 698.8,242.2M629.5,245.4 634.6,241.2 640.8,242.9 644.5,246.5 649.7,250.8 654.8,254.0 660.2,259.0 663.3,259.3M648.2,262.2 652.9,266.8 658.1,263.2 663.3,259.3 668.0,260.7 673.5,259.0 677.6,257.5 688.2,260.0M665.6,250.0 671.4,250.0 677.8,252.2 682.7,251.8M668.0,260.7 665.6,250.0 667.2,244.7M573.5,264.7 575.6,261.4 579.4,261.4 585.2,260.4 592.3,260.4M592.3,260.4 599.3,260.0M587.9,244.4 591.5,244.7 593.7,246.1 594.5,249.7 598.2,251.1M582.5,238.0 588.3,238.7 594.3,240.5 601.9,243.3 606.1,245.8 608.0,243.7M593.7,246.1 597.9,245.4 602.4,246.1M597.9,245.4 599.8,248.3 603.5,254.0M592.3,260.4 589.8,270.0 582.9,273.6M582.9,273.6 584.5,277.9 578.1,280.4 581.4,284.0 575.6,287.6 572.2,287.6M574.1,276.1 582.9,273.6M584.5,277.9 593.3,281.8 602.1,288.6 607.6,289.0 611.5,291.1 613.6,291.1M607.6,289.0 611.6,285.8M598.9,334.5 602.5,330.9 611.9,332.3 617.9,326.6 627.1,325.1 636.2,321.6 637.9,314.4 636.2,311.9M636.2,311.9 626.0,307.6 624.6,306.2M627.1,325.1 631.0,333.7M541.8,280.0 542.9,314.4 579.7,314.4M542.9,314.4 543.0,321.6 540.0,323.4 540.2,337.0M540.0,323.4 514.7,309.4 508.8,312.6 502.3,309.0M502.3,309.0 496.5,303.7 497.4,298.3 495.3,285.8 497.4,279.7 501.1,275.0M491.9,261.1 491.2,269.3 489.1,273.2 493.5,278.6 495.3,285.8M461.1,267.5 461.4,275.0 455.5,280.0 439.5,290.4 439.3,295.4M439.4,294.0 425.6,294.0M439.3,295.4 439.1,300.1 429.0,300.1 428.6,309.0 425.2,316.9 412.8,316.9M439.3,295.4 451.0,303.7 469.2,318.0 478.4,324.4 483.4,323.7 488.7,318.7 502.3,309.0M451.0,303.7 445.7,304.0 448.0,334.8 448.6,337.7 429.5,338.0 426.9,340.5M413.6,335.2 426.9,340.5M478.4,324.4 478.3,333.0 469.2,338.4 463.6,339.5 458.8,342.3 454.1,345.2 448.3,353.1 447.7,355.9M476.3,351.3 477.9,344.8 485.5,344.8 493.3,347.3 504.3,344.8 509.0,346.3M514.7,309.4 513.5,321.6 513.6,332.7 507.4,341.6M469.2,338.4 471.3,347.7 467.8,353.8M476.3,351.3 473.4,360.9 473.4,370.2M469.9,371.0 470.0,360.6 467.5,353.8M468.7,371.3 466.5,364.5 465.0,353.8M455.1,374.9 456.4,359.1 455.9,353.8M455.9,353.8 465.0,353.8 468.1,353.8M441.2,377.4 438.1,366.3 439.8,356.3 447.7,355.9M426.9,340.5 429.2,348.8 438.3,353.4 438.2,357.4M412.7,344.5 421.8,344.8 417.7,345.2M412.6,348.8 422.0,348.1 429.2,348.8M423.0,360.9 429.4,357.4 432.5,362.7 428.6,368.5M540.2,337.0 535.6,343.0 534.1,348.4 537.0,352.3 535.7,354.1M513.8,366.3 520.1,364.9 524.8,360.9 531.1,359.1 535.7,354.1M535.7,354.1 538.9,355.6 542.1,362.7 548.5,371.7 551.4,374.9M540.5,362.0 546.8,359.1 550.0,358.8 557.8,358.1 564.1,358.1 568.8,354.9 572.0,357.4 572.9,358.8M572.9,358.8 569.5,363.1 570.5,364.5 575.3,373.5 572.2,378.1M585.6,328.7 580.7,332.3 579.5,342.0M579.5,342.0 576.5,348.4 572.9,355.2 572.9,358.8M579.5,342.0 587.3,340.9 590.4,341.3 595.9,345.9 598.2,348.4M598.2,348.4 596.4,352.0 599.9,353.8 603.5,360.9 615.9,364.5 606.9,375.3 597.5,378.8M597.5,378.8 589.6,380.6 578.5,376.7 575.3,373.5M597.2,379.2 594.4,383.1 594.4,398.9M499.9,407.1 502.1,402.1 505.9,401.4 510.6,401.4 510.0,396.7 509.1,393.1 506.9,385.3M515.4,386.7 517.0,380.6 523.6,380.6M495.8,389.6 500.5,389.6 500.5,385.3M502.1,455.1 507.1,454.0 523.0,455.4 530.4,457.6 537.9,456.1M540.4,439.7 534.1,439.7 533.9,451.1 537.9,456.1M540.5,432.5 540.4,439.7M527.3,481.9 527.4,471.9 530.5,471.9 530.7,458.6M530.7,458.6 537.9,456.1 543.8,456.9M560.2,449.0 559.7,446.5 568.5,443.3 570.2,438.2 568.9,426.8M568.5,443.3 573.5,444.0 575.5,452.2 577.1,450.4 576.3,445.0M568.0,452.9 575.5,452.2M795.7,342.3 797.8,341.6 801.8,341.3M838.6,258.2 840.3,256.1 844.0,255.0M910.4,402.5 909.0,425.7M185.2,341.6 184.3,343.0 182.6,344.1" fill="none" stroke="#fff" stroke-width="0.7" stroke-linejoin="round"/>
<path d="M548.7,245.4 547.9,238.7 549.6,235.2 552.4,231.6 554.8,227.1 557.9,226.7 561.4,228.5 560.3,230.9 563.5,234.1 566.2,233.4 568.9,232.0 571.6,231.3 575.6,233.4 579.3,235.9 581.5,237.3 587.9,244.4 582.7,246.5 574.9,246.1 568.7,242.9 563.0,243.3 558.9,245.4 551.6,245.8ZM600.9,233.8 602.6,230.2 606.2,227.1 613.9,225.0 617.2,226.0 618.9,231.3 614.0,234.1 619.2,242.9 621.9,250.0 625.7,255.4 626.2,259.7 617.9,261.8 611.6,259.0 610.8,255.7 611.6,249.3 607.8,243.7 604.2,239.4 602.1,235.9ZM210.4,226.4 216.1,226.7 223.0,227.1 230.8,227.1 231.9,225.3 232.2,222.5 229.6,219.4 224.2,220.1 220.0,221.8 215.9,224.3ZM214.7,242.9 218.7,242.2 221.7,237.6 224.7,232.4 228.8,229.5 223.5,228.8 219.3,234.1 216.0,239.4ZM231.5,239.4 235.2,234.1 237.3,231.3 240.3,232.4 241.3,228.8 232.3,228.1 229.7,230.6 232.2,232.7 230.2,235.9 231.8,238.7ZM226.9,244.0 231.4,242.9 241.4,239.8 238.0,242.2 232.1,244.7ZM239.7,238.3 245.7,236.2 251.3,235.2 250.0,237.6 246.2,238.3ZM204.2,213.2 208.2,209.7 206.8,202.9 203.8,204.6 203.9,211.4Z" fill="#fff"/>
</g>
<line x1="202.7" y1="230.5" x2="202.7" y2="323.5" stroke="#fff" stroke-width="3.8"/>
<line x1="202.7" y1="362.8" x2="202.7" y2="509.6" stroke="#fff" stroke-width="3.8"/>
<line x1="184.1" y1="351.4" x2="184.1" y2="376.4" stroke="#fff" stroke-width="3.8"/>
<line x1="540.0" y1="358.7" x2="540.0" y2="397.0" stroke="#fff" stroke-width="3.8"/>
<line x1="622.6" y1="238.0" x2="622.6" y2="264.7" stroke="#fff" stroke-width="3.8"/>
<line x1="673.9" y1="178.3" x2="673.9" y2="290.7" stroke="#fff" stroke-width="3.8"/>
<line x1="705.0" y1="207.1" x2="705.0" y2="299.3" stroke="#fff" stroke-width="3.8"/>
<line x1="743.5" y1="319.2" x2="743.5" y2="506.3" stroke="#fff" stroke-width="3.8"/>
<line x1="762.6" y1="150.4" x2="762.6" y2="323.4" stroke="#fff" stroke-width="3.8"/>
<line x1="782.4" y1="207.9" x2="782.4" y2="339.8" stroke="#fff" stroke-width="3.8"/>
<line x1="806.5" y1="348.8" x2="806.5" y2="386.0" stroke="#fff" stroke-width="3.8"/>
<line x1="788.2" y1="384.4" x2="788.2" y2="450.1" stroke="#fff" stroke-width="3.8"/>
<line x1="202.7" y1="230.5" x2="202.7" y2="323.5" stroke="#3a3a3a" stroke-width="1.5"/>
<line x1="202.7" y1="362.8" x2="202.7" y2="509.6" stroke="#3a3a3a" stroke-width="1.5"/>
<line x1="184.1" y1="351.4" x2="184.1" y2="376.4" stroke="#3a3a3a" stroke-width="1.5"/>
<line x1="540.0" y1="358.7" x2="540.0" y2="397.0" stroke="#3a3a3a" stroke-width="1.5"/>
<line x1="622.6" y1="238.0" x2="622.6" y2="264.7" stroke="#3a3a3a" stroke-width="1.5"/>
<line x1="673.9" y1="178.3" x2="673.9" y2="290.7" stroke="#3a3a3a" stroke-width="1.5"/>
<line x1="705.0" y1="207.1" x2="705.0" y2="299.3" stroke="#3a3a3a" stroke-width="1.5"/>
<line x1="743.5" y1="319.2" x2="743.5" y2="506.3" stroke="#3a3a3a" stroke-width="1.5"/>
<line x1="762.6" y1="150.4" x2="762.6" y2="323.4" stroke="#3a3a3a" stroke-width="1.5"/>
<line x1="782.4" y1="207.9" x2="782.4" y2="339.8" stroke="#3a3a3a" stroke-width="1.5"/>
<line x1="806.5" y1="348.8" x2="806.5" y2="386.0" stroke="#3a3a3a" stroke-width="1.5"/>
<line x1="788.2" y1="384.4" x2="788.2" y2="450.1" stroke="#3a3a3a" stroke-width="1.5"/>
<circle cx="150.2" cy="312.8" r="5.1" fill="none" stroke="#fff" stroke-opacity="0.7" stroke-width="1.2"/>
<circle cx="150.2" cy="312.8" r="4.1" fill="#d47052" stroke="#c05a36" stroke-width="0.9" style="mix-blend-mode:multiply"/>
<circle cx="202.5" cy="332.9" r="10.0" fill="none" stroke="#fff" stroke-opacity="0.7" stroke-width="1.2"/>
<circle cx="202.5" cy="332.9" r="9.0" fill="#d47052" stroke="#c05a36" stroke-width="0.9" style="mix-blend-mode:multiply"/>
<circle cx="184.1" cy="345.2" r="6.8" fill="none" stroke="#fff" stroke-opacity="0.7" stroke-width="1.2"/>
<circle cx="184.1" cy="345.2" r="5.8" fill="#d47052" stroke="#c05a36" stroke-width="0.9" style="mix-blend-mode:multiply"/>
<circle cx="202.8" cy="354.3" r="9.1" fill="none" stroke="#fff" stroke-opacity="0.7" stroke-width="1.2"/>
<circle cx="202.8" cy="354.3" r="8.1" fill="#d47052" stroke="#c05a36" stroke-width="0.9" style="mix-blend-mode:multiply"/>
<circle cx="226.8" cy="378.0" r="16.0" fill="none" stroke="#fff" stroke-opacity="0.7" stroke-width="1.2"/>
<circle cx="226.8" cy="378.0" r="15.0" fill="#d47052" stroke="#c05a36" stroke-width="0.9" style="mix-blend-mode:multiply"/>
<circle cx="315.2" cy="422.2" r="18.1" fill="none" stroke="#fff" stroke-opacity="0.7" stroke-width="1.2"/>
<circle cx="315.2" cy="422.2" r="17.1" fill="#d47052" stroke="#c05a36" stroke-width="0.9" style="mix-blend-mode:multiply"/>
<circle cx="223.95" cy="432.9" r="4.4" fill="none" stroke="#fff" stroke-opacity="0.7" stroke-width="1.2"/>
<circle cx="223.95" cy="432.9" r="3.4" fill="#d47052" stroke="#c05a36" stroke-width="0.9" style="mix-blend-mode:multiply"/>
<circle cx="447.5" cy="205.0" r="3.2" fill="none" stroke="#fff" stroke-opacity="0.7" stroke-width="1.2"/>
<circle cx="447.5" cy="205.0" r="2.2" fill="#d47052" stroke="#c05a36" stroke-width="0.9" style="mix-blend-mode:multiply"/>
<circle cx="500.4" cy="379.3" r="3.3" fill="none" stroke="#fff" stroke-opacity="0.7" stroke-width="1.2"/>
<circle cx="500.4" cy="379.3" r="2.3" fill="#d47052" stroke="#c05a36" stroke-width="0.9" style="mix-blend-mode:multiply"/>
<circle cx="540.0" cy="404.8" r="8.5" fill="none" stroke="#fff" stroke-opacity="0.7" stroke-width="1.2"/>
<circle cx="540.0" cy="404.8" r="7.5" fill="#d47052" stroke="#c05a36" stroke-width="0.9" style="mix-blend-mode:multiply"/>
<circle cx="569.1" cy="390.8" r="3.3" fill="none" stroke="#fff" stroke-opacity="0.7" stroke-width="1.2"/>
<circle cx="569.1" cy="390.8" r="2.3" fill="#d47052" stroke="#c05a36" stroke-width="0.9" style="mix-blend-mode:multiply"/>
<circle cx="579.5" cy="422.4" r="3.3" fill="none" stroke="#fff" stroke-opacity="0.7" stroke-width="1.2"/>
<circle cx="579.5" cy="422.4" r="2.3" fill="#d47052" stroke="#c05a36" stroke-width="0.9" style="mix-blend-mode:multiply"/>
<circle cx="560.9" cy="464.2" r="3.3" fill="none" stroke="#fff" stroke-opacity="0.7" stroke-width="1.2"/>
<circle cx="560.9" cy="464.2" r="2.3" fill="#d47052" stroke="#c05a36" stroke-width="0.9" style="mix-blend-mode:multiply"/>
<circle cx="536.5" cy="506.5" r="4.4" fill="none" stroke="#fff" stroke-opacity="0.7" stroke-width="1.2"/>
<circle cx="536.5" cy="506.5" r="3.4" fill="#d47052" stroke="#c05a36" stroke-width="0.9" style="mix-blend-mode:multiply"/>
<circle cx="622.6" cy="269.3" r="5.2" fill="none" stroke="#fff" stroke-opacity="0.7" stroke-width="1.2"/>
<circle cx="622.6" cy="269.3" r="4.2" fill="#d47052" stroke="#c05a36" stroke-width="0.9" style="mix-blend-mode:multiply"/>
<circle cx="674.0" cy="293.5" r="3.4" fill="none" stroke="#fff" stroke-opacity="0.7" stroke-width="1.2"/>
<circle cx="674.0" cy="293.5" r="2.4" fill="#d47052" stroke="#c05a36" stroke-width="0.9" style="mix-blend-mode:multiply"/>
<circle cx="704.9" cy="309.3" r="10.7" fill="none" stroke="#fff" stroke-opacity="0.7" stroke-width="1.2"/>
<circle cx="704.9" cy="309.3" r="9.7" fill="#d47052" stroke="#c05a36" stroke-width="0.9" style="mix-blend-mode:multiply"/>
<circle cx="743.3" cy="312.5" r="7.3" fill="none" stroke="#fff" stroke-opacity="0.7" stroke-width="1.2"/>
<circle cx="743.3" cy="312.5" r="6.3" fill="#d47052" stroke="#c05a36" stroke-width="0.9" style="mix-blend-mode:multiply"/>
<circle cx="762.6" cy="327.0" r="4.4" fill="none" stroke="#fff" stroke-opacity="0.7" stroke-width="1.2"/>
<circle cx="762.6" cy="327.0" r="3.4" fill="#d47052" stroke="#c05a36" stroke-width="0.9" style="mix-blend-mode:multiply"/>
<circle cx="781.7" cy="342.4" r="3.3" fill="none" stroke="#fff" stroke-opacity="0.7" stroke-width="1.2"/>
<circle cx="781.7" cy="342.4" r="2.3" fill="#d47052" stroke="#c05a36" stroke-width="0.9" style="mix-blend-mode:multiply"/>
<circle cx="812.3" cy="264.9" r="3.3" fill="none" stroke="#fff" stroke-opacity="0.7" stroke-width="1.2"/>
<circle cx="812.3" cy="264.9" r="2.3" fill="#d47052" stroke="#c05a36" stroke-width="0.9" style="mix-blend-mode:multiply"/>
<circle cx="843.2" cy="335.2" r="13.9" fill="none" stroke="#fff" stroke-opacity="0.7" stroke-width="1.2"/>
<circle cx="843.2" cy="335.2" r="12.9" fill="#d47052" stroke="#c05a36" stroke-width="0.9" style="mix-blend-mode:multiply"/>
<circle cx="807.0" cy="346.2" r="3.3" fill="none" stroke="#fff" stroke-opacity="0.7" stroke-width="1.2"/>
<circle cx="807.0" cy="346.2" r="2.3" fill="#d47052" stroke="#c05a36" stroke-width="0.9" style="mix-blend-mode:multiply"/>
<circle cx="788.2" cy="381.8" r="3.3" fill="none" stroke="#fff" stroke-opacity="0.7" stroke-width="1.2"/>
<circle cx="788.2" cy="381.8" r="2.3" fill="#d47052" stroke="#c05a36" stroke-width="0.9" style="mix-blend-mode:multiply"/>
<rect x="0" y="0" width="1000" height="5" fill="#000"/>
<text x="16.00" y="46.90" font-size="34.2" font-weight="bold" font-style="normal" fill="#000" stroke="#000" stroke-width="0.4" textLength="325.80" lengthAdjust="spacingAndGlyphs">Murdered defenders</text>
<text x="17.00" y="78.40" font-size="19.2" font-weight="normal" font-style="normal" fill="#111" stroke="#111" stroke-width="0.9" textLength="943.60" lengthAdjust="spacingAndGlyphs">Around 200 environmental activists defending against destructive industries killed in 2016: Global Witness</text>
<text x="197.80" y="202.20" font-size="18.6" font-weight="normal" font-style="normal" fill="#111" stroke="#111" stroke-width="0.25" textLength="85.00" lengthAdjust="spacingAndGlyphs">Honduras</text>
<text x="198.20" y="223.50" font-size="18.5" font-weight="bold" font-style="normal" fill="#111" stroke="#111" stroke-width="0.5" textLength="20.80" lengthAdjust="spacingAndGlyphs">14</text>
<text x="81.00" y="316.30" font-size="18.6" font-weight="normal" font-style="normal" fill="#111" stroke="#111" stroke-width="0.25" textLength="59.00" lengthAdjust="spacingAndGlyphs">Mexico</text>
<text x="130.80" y="337.40" font-size="18.5" font-weight="bold" font-style="normal" fill="#111" stroke="#111" stroke-width="0.5" textLength="9.20" lengthAdjust="spacingAndGlyphs">3</text>
<text x="92.60" y="393.80" font-size="18.6" font-weight="normal" font-style="normal" fill="#111" stroke="#111" stroke-width="0.25" textLength="93.60" lengthAdjust="spacingAndGlyphs">Guatemala</text>
<text x="177.60" y="415.00" font-size="18.5" font-weight="bold" font-style="normal" fill="#111" stroke="#111" stroke-width="0.5" textLength="10.40" lengthAdjust="spacingAndGlyphs">6</text>
<text x="237.80" y="343.90" font-size="18.6" font-weight="normal" font-style="normal" fill="#111" stroke="#111" stroke-width="0.25" textLength="83.40" lengthAdjust="spacingAndGlyphs">Colombia</text>
<text x="238.80" y="364.90" font-size="18.5" font-weight="bold" font-style="normal" fill="#111" stroke="#111" stroke-width="0.5" textLength="20.00" lengthAdjust="spacingAndGlyphs">37</text>
<text x="341.00" y="415.40" font-size="18.6" font-weight="normal" font-style="normal" fill="#111" stroke="#111" stroke-width="0.25" textLength="48.60" lengthAdjust="spacingAndGlyphs">Brazil</text>
<text x="341.20" y="436.20" font-size="18.5" font-weight="bold" font-style="normal" fill="#111" stroke="#111" stroke-width="0.5" textLength="21.00" lengthAdjust="spacingAndGlyphs">49</text>
<text x="220.40" y="456.30" font-size="18.6" font-weight="normal" font-style="normal" fill="#111" stroke="#111" stroke-width="0.25" textLength="40.60" lengthAdjust="spacingAndGlyphs">Peru</text>
<text x="221.40" y="477.20" font-size="18.5" font-weight="bold" font-style="normal" fill="#111" stroke="#111" stroke-width="0.5" textLength="9.00" lengthAdjust="spacingAndGlyphs">2</text>
<text x="136.40" y="527.80" font-size="18.6" font-weight="normal" font-style="normal" fill="#111" stroke="#111" stroke-width="0.25" textLength="86.60" lengthAdjust="spacingAndGlyphs">Nicaragua</text>
<text x="137.00" y="548.60" font-size="18.5" font-weight="bold" font-style="normal" fill="#111" stroke="#111" stroke-width="0.5" textLength="20.20" lengthAdjust="spacingAndGlyphs">11</text>
<text x="440.80" y="226.30" font-size="18.6" font-weight="normal" font-style="normal" fill="#111" stroke="#111" stroke-width="0.25" textLength="61.60" lengthAdjust="spacingAndGlyphs">Ireland</text>
<text x="441.80" y="247.70" font-size="18.5" font-weight="bold" font-style="normal" fill="#111" stroke="#111" stroke-width="0.5" textLength="8.60" lengthAdjust="spacingAndGlyphs">1</text>
<text x="414.40" y="348.20" font-size="18.6" font-weight="normal" font-style="normal" fill="#111" stroke="#111" stroke-width="0.25" textLength="90.20" lengthAdjust="spacingAndGlyphs">Cameroon</text>
<text x="494.80" y="369.30" font-size="18.5" font-weight="bold" font-style="normal" fill="#111" stroke="#111" stroke-width="0.5" textLength="8.80" lengthAdjust="spacingAndGlyphs">1</text>
<text x="533.60" y="330.20" font-size="18.6" font-weight="normal" font-style="normal" fill="#111" stroke="#111" stroke-width="0.25" textLength="83.40" lengthAdjust="spacingAndGlyphs">DR Congo</text>
<text x="533.00" y="351.30" font-size="18.5" font-weight="bold" font-style="normal" fill="#111" stroke="#111" stroke-width="0.5" textLength="21.60" lengthAdjust="spacingAndGlyphs">10</text>
<text x="575.00" y="373.10" font-size="18.6" font-weight="normal" font-style="normal" fill="#111" stroke="#111" stroke-width="0.25" textLength="65.40" lengthAdjust="spacingAndGlyphs">Uganda</text>
<text x="574.60" y="394.90" font-size="18.5" font-weight="bold" font-style="normal" fill="#111" stroke="#111" stroke-width="0.5" textLength="9.80" lengthAdjust="spacingAndGlyphs">1</text>
<text x="589.60" y="428.90" font-size="18.6" font-weight="normal" font-style="normal" fill="#111" stroke="#111" stroke-width="0.25" textLength="73.80" lengthAdjust="spacingAndGlyphs">Tanzania</text>
<text x="588.00" y="450.30" font-size="18.5" font-weight="bold" font-style="normal" fill="#111" stroke="#111" stroke-width="0.5" textLength="9.40" lengthAdjust="spacingAndGlyphs">1</text>
<text x="569.80" y="478.50" font-size="18.6" font-weight="normal" font-style="normal" fill="#111" stroke="#111" stroke-width="0.25" textLength="91.60" lengthAdjust="spacingAndGlyphs">Zimbabwe</text>
<text x="569.00" y="499.90" font-size="18.5" font-weight="bold" font-style="normal" fill="#111" stroke="#111" stroke-width="0.5" textLength="9.40" lengthAdjust="spacingAndGlyphs">1</text>
<text x="422.80" y="512.80" font-size="18.6" font-weight="normal" font-style="normal" fill="#111" stroke="#111" stroke-width="0.25" textLength="104.60" lengthAdjust="spacingAndGlyphs">South Africa</text>
<text x="519.00" y="533.60" font-size="18.5" font-weight="bold" font-style="normal" fill="#111" stroke="#111" stroke-width="0.5" textLength="9.60" lengthAdjust="spacingAndGlyphs">2</text>
<text x="602.60" y="150.40" font-size="18.6" font-weight="normal" font-style="normal" fill="#111" stroke="#111" stroke-width="0.25" textLength="74.00" lengthAdjust="spacingAndGlyphs">Pakistan</text>
<text x="666.00" y="171.70" font-size="18.5" font-weight="bold" font-style="normal" fill="#111" stroke="#111" stroke-width="0.5" textLength="9.60" lengthAdjust="spacingAndGlyphs">1</text>
<text x="700.20" y="181.00" font-size="18.6" font-weight="normal" font-style="normal" fill="#111" stroke="#111" stroke-width="0.25" textLength="43.00" lengthAdjust="spacingAndGlyphs">India</text>
<text x="699.80" y="202.10" font-size="18.5" font-weight="bold" font-style="normal" fill="#111" stroke="#111" stroke-width="0.5" textLength="21.40" lengthAdjust="spacingAndGlyphs">16</text>
<text x="618.00" y="212.80" font-size="18.6" font-weight="normal" font-style="normal" fill="#111" stroke="#111" stroke-width="0.25" textLength="33.60" lengthAdjust="spacingAndGlyphs">Iran</text>
<text x="619.00" y="233.90" font-size="18.5" font-weight="bold" font-style="normal" fill="#111" stroke="#111" stroke-width="0.5" textLength="9.60" lengthAdjust="spacingAndGlyphs">1</text>
<text x="759.00" y="121.40" font-size="18.6" font-weight="normal" font-style="normal" fill="#111" stroke="#111" stroke-width="0.25" textLength="81.00" lengthAdjust="spacingAndGlyphs">Myanmar</text>
<text x="760.00" y="142.30" font-size="18.5" font-weight="bold" font-style="normal" fill="#111" stroke="#111" stroke-width="0.5" textLength="10.00" lengthAdjust="spacingAndGlyphs">2</text>
<text x="782.40" y="180.40" font-size="18.6" font-weight="normal" font-style="normal" fill="#111" stroke="#111" stroke-width="0.25" textLength="75.60" lengthAdjust="spacingAndGlyphs">Thailand</text>
<text x="782.40" y="202.20" font-size="18.5" font-weight="bold" font-style="normal" fill="#111" stroke="#111" stroke-width="0.5" textLength="8.00" lengthAdjust="spacingAndGlyphs">1</text>
<text x="820.00" y="251.40" font-size="18.6" font-weight="normal" font-style="normal" fill="#111" stroke="#111" stroke-width="0.25" textLength="49.20" lengthAdjust="spacingAndGlyphs">China</text>
<text x="821.40" y="271.10" font-size="18.5" font-weight="bold" font-style="normal" fill="#111" stroke="#111" stroke-width="0.5" textLength="8.60" lengthAdjust="spacingAndGlyphs">1</text>
<text x="864.20" y="338.20" font-size="18.6" font-weight="normal" font-style="normal" fill="#111" stroke="#111" stroke-width="0.25" textLength="97.60" lengthAdjust="spacingAndGlyphs">Philippines</text>
<text x="865.00" y="358.00" font-size="18.5" font-weight="bold" font-style="normal" fill="#111" stroke="#111" stroke-width="0.5" textLength="21.20" lengthAdjust="spacingAndGlyphs">28</text>
<text x="801.60" y="404.10" font-size="18.6" font-weight="normal" font-style="normal" fill="#111" stroke="#111" stroke-width="0.25" textLength="71.60" lengthAdjust="spacingAndGlyphs">Vietnam</text>
<text x="800.60" y="425.20" font-size="18.5" font-weight="bold" font-style="normal" fill="#111" stroke="#111" stroke-width="0.5" textLength="9.60" lengthAdjust="spacingAndGlyphs">1</text>
<text x="782.20" y="468.40" font-size="18.6" font-weight="normal" font-style="normal" fill="#111" stroke="#111" stroke-width="0.25" textLength="74.80" lengthAdjust="spacingAndGlyphs">Malaysia</text>
<text x="783.20" y="489.00" font-size="18.5" font-weight="bold" font-style="normal" fill="#111" stroke="#111" stroke-width="0.5" textLength="8.80" lengthAdjust="spacingAndGlyphs">1</text>
<text x="681.40" y="523.20" font-size="18.6" font-weight="normal" font-style="normal" fill="#111" stroke="#111" stroke-width="0.25" textLength="101.60" lengthAdjust="spacingAndGlyphs">Bangladesh</text>
<text x="682.00" y="544.60" font-size="18.5" font-weight="bold" font-style="normal" fill="#111" stroke="#111" stroke-width="0.5" textLength="9.00" lengthAdjust="spacingAndGlyphs">7</text>
<text x="16.20" y="602.00" font-size="15.0" font-weight="normal" font-style="italic" fill="#111" stroke="#111" stroke-width="0.15" textLength="146.20" lengthAdjust="spacingAndGlyphs">Source : Global Witness</text>
<text x="917" y="601" font-size="18" fill="#222">©</text>
<g fill="#2a7dd1"><path d="M935.8,598.2 L948.5,598.2 L949.3,594.6 L936.6,594.6 Z"/><text x="942.3" y="600.4" font-size="21" font-weight="bold" font-style="italic" stroke="#2a7dd1" stroke-width="0.8" textLength="42.5" lengthAdjust="spacingAndGlyphs">AFP</text></g>
</svg></body></html>
